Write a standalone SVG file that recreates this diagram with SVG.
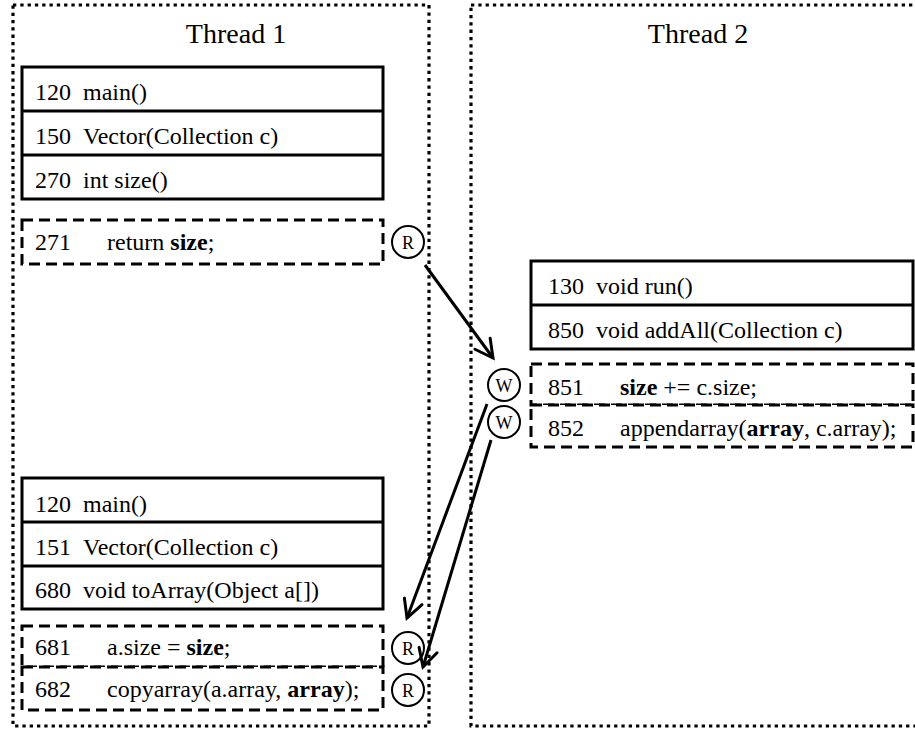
<svg xmlns="http://www.w3.org/2000/svg" width="915" height="729" viewBox="0 0 915 729">
  <style>
    text { font-family: "Liberation Serif", "Times New Roman", serif; fill: #000; }
    .title { font-size: 28px; text-anchor: middle; }
    .row { font-size: 24px; }
    .tag { font-size: 18px; text-anchor: middle; }
    .thread { fill: none; stroke: #000; stroke-width: 3.2; stroke-dasharray: 3.3 4; }
    .frame { fill: #fff; stroke: #000; stroke-width: 3; }
    .div { stroke: #000; stroke-width: 3; }
    .access { fill: #fff; stroke: #000; stroke-width: 3; stroke-dasharray: 11 6; }
    .mark { fill: #fff; stroke: #000; stroke-width: 2; }
    .edge { stroke: #000; stroke-width: 3; fill: none; marker-end: url(#head); }
  </style>
  <defs>
    <marker id="head" markerUnits="userSpaceOnUse" viewBox="-22 -13 26 26" refX="0" refY="0" markerWidth="26" markerHeight="26" orient="auto">
      <path d="M-17.7,-9.4 L0,0 L-17.7,9.4" fill="none" stroke="#000" stroke-width="3" stroke-linecap="round" stroke-linejoin="miter"/>
    </marker>
  </defs>
  <rect width="915" height="729" fill="#fff"/>

  <!-- Thread 1 -->
  <g id="thread1">
    <rect class="thread" x="13" y="5" width="416" height="721"/>
    <text class="title" x="236" y="43">Thread 1</text>
  </g>

  <!-- Thread 2 -->
  <g id="thread2">
    <rect class="thread" x="471" y="5" width="450" height="721"/>
    <text class="title" x="698" y="43">Thread 2</text>
  </g>

  <!-- Thread 1: first call stack -->
  <g id="stack1a">
    <rect class="frame" x="22" y="67" width="361" height="132"/>
    <line class="div" x1="22" y1="111" x2="383" y2="111"/>
    <line class="div" x1="22" y1="155" x2="383" y2="155"/>
    <text class="row" x="35" y="100">120</text><text class="row" x="83" y="100">main()</text>
    <text class="row" x="35" y="144">150</text><text class="row" x="83" y="144">Vector(Collection c)</text>
    <text class="row" x="35" y="188">270</text><text class="row" x="83" y="188">int size()</text>
  </g>

  <g id="read271">
    <rect class="access" x="22" y="220" width="361" height="44"/>
    <text class="row" x="35" y="250">271</text>
    <text class="row" x="107" y="250">return <tspan font-weight="bold">size</tspan>;</text>
    <circle class="mark" cx="408" cy="242" r="16"/>
    <text class="tag" x="408" y="248.5">R</text>
  </g>

  <!-- Thread 2: call stack -->
  <g id="stack2">
    <rect class="frame" x="531" y="261" width="382" height="88"/>
    <line class="div" x1="531" y1="305" x2="913" y2="305"/>
    <text class="row" x="548" y="294">130</text><text class="row" x="596" y="294">void run()</text>
    <text class="row" x="548" y="338">850</text><text class="row" x="596" y="338">void addAll(Collection c)</text>
  </g>

  <g id="write851">
    <rect class="access" x="531" y="364" width="382" height="41"/>
    <text class="row" x="548" y="395">851</text>
    <text class="row" x="620" y="395"><tspan font-weight="bold">size</tspan> += c.size;</text>
    <circle class="mark" cx="504" cy="385" r="16"/>
    <text class="tag" x="504" y="391.5">W</text>
  </g>

  <g id="write852">
    <rect class="access" x="531" y="405" width="382" height="42"/>
    <text class="row" x="548" y="436">852</text>
    <text class="row" x="620" y="436">appendarray(<tspan font-weight="bold">array</tspan>, c.array);</text>
    <circle class="mark" cx="504" cy="422" r="16"/>
    <text class="tag" x="504" y="428.5">W</text>
  </g>

  <!-- Thread 1: second call stack -->
  <g id="stack1b">
    <rect class="frame" x="22" y="478" width="361" height="131"/>
    <line class="div" x1="22" y1="522" x2="383" y2="522"/>
    <line class="div" x1="22" y1="566" x2="383" y2="566"/>
    <text class="row" x="35" y="512">120</text><text class="row" x="83" y="512">main()</text>
    <text class="row" x="35" y="555">151</text><text class="row" x="83" y="555">Vector(Collection c)</text>
    <text class="row" x="35" y="598">680</text><text class="row" x="83" y="598">void toArray(Object a[])</text>
  </g>

  <g id="read681">
    <rect class="access" x="22" y="626" width="361" height="41"/>
    <text class="row" x="35" y="655">681</text>
    <text class="row" x="107" y="655">a.size = <tspan font-weight="bold">size</tspan>;</text>
    <circle class="mark" cx="408" cy="648" r="16"/>
    <text class="tag" x="408" y="654.5">R</text>
  </g>

  <g id="read682">
    <rect class="access" x="22" y="667" width="361" height="43"/>
    <text class="row" x="35" y="697">682</text>
    <text class="row" x="107" y="697">copyarray(a.array, <tspan font-weight="bold">array</tspan>);</text>
    <circle class="mark" cx="408" cy="690" r="16"/>
    <text class="tag" x="408" y="696.5">R</text>
  </g>

  <!-- Dependences between accesses -->
  <g id="connectors">
    <line class="edge" x1="425" y1="265" x2="493" y2="358"/>
    <line class="edge" x1="487" y1="404" x2="407" y2="618"/>
    <line class="edge" x1="491" y1="440" x2="423" y2="667"/>
  </g>
</svg>
